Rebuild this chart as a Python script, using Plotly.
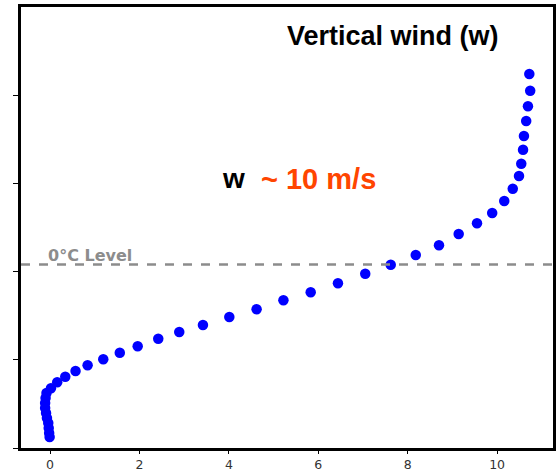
import plotly.graph_objects as go

# Vertical wind profile (x: w in m/s, y: height in arbitrary units)
w_values = [-0.01, -0.02, -0.03, -0.04, -0.07, -0.09, -0.11, -0.11, -0.10, -0.08,
            0.02, 0.16, 0.34, 0.57, 0.84, 1.19, 1.56, 1.96, 2.42, 2.89,
            3.42, 4.01, 4.62, 5.22, 5.83, 6.44, 7.05, 7.62, 8.18, 8.70,
            9.14, 9.55, 9.89, 10.16, 10.35, 10.49, 10.54, 10.58, 10.60, 10.65,
            10.69, 10.74, 10.72]
heights = [0.125, 0.17, 0.227, 0.283, 0.34, 0.397, 0.454, 0.51, 0.567, 0.624,
           0.677, 0.745, 0.808, 0.873, 0.938, 1.006, 1.080, 1.153, 1.239, 1.315,
           1.395, 1.485, 1.573, 1.675, 1.765, 1.867, 1.976, 2.078, 2.188, 2.298,
           2.426, 2.548, 2.664, 2.800, 2.940, 3.084, 3.223, 3.382, 3.537, 3.707,
           3.874, 4.051, 4.240]
freezing_level = 2.08
x_ticks = [0, 2, 4, 6, 8, 10]
y_ticks = [0, 1, 2, 3, 4]

fig = go.Figure()
fig.add_trace(go.Scatter(
    x=w_values, y=heights, mode="markers",
    marker=dict(color="#0000ff", size=10.5, line=dict(width=0)),
    showlegend=False,
))

fig.add_shape(type="line", xref="paper", yref="y", x0=0, x1=1,
              y0=freezing_level, y1=freezing_level,
              line=dict(color="#8c8c8c", width=2.5, dash="dash"))

fig.add_annotation(x=-0.08, y=freezing_level, xref="x", yref="y",
                   text="<b>0°C Level</b>", showarrow=False, xanchor="left", yanchor="bottom",
                   yshift=-2,
                   font=dict(family="DejaVu Sans", size=16, color="#8c8c8c"))

fig.add_annotation(x=0.70, y=0.935, xref="paper", yref="paper",
                   text="<b>Vertical wind (w)</b>", showarrow=False,
                   xanchor="center", yanchor="middle",
                   font=dict(family="Liberation Sans, Arial", size=27, color="#000000"))

fig.add_annotation(x=3.8, y=3.05, xref="x", yref="y",
                   text="<b>w</b>", showarrow=False, xanchor="left", yanchor="middle",
                   font=dict(family="Liberation Sans, Arial", size=28, color="#000000"))
fig.add_annotation(x=4.68, y=3.05, xref="x", yref="y",
                   text="<b>~ 10 m/s</b>", showarrow=False, xanchor="left", yanchor="middle",
                   font=dict(family="Liberation Sans, Arial", size=29, color="#ff4500"))

fig.update_xaxes(range=[-0.65, 11.25], tickvals=x_ticks, ticks="outside", ticklen=3,
                 tickwidth=1.2, tickcolor="#000", showline=True, linecolor="#000",
                 linewidth=2.5, mirror=True, showgrid=False, zeroline=False,
                 automargin=False,
                 tickfont=dict(family="DejaVu Sans", size=12.5, color="#333"))
fig.update_yaxes(range=[0, 5], tickvals=y_ticks, ticktext=["", "", "", "", ""],
                 ticks="outside", ticklen=5, tickwidth=1.2, tickcolor="#000",
                 showline=True, linecolor="#000", linewidth=2.5, mirror=True,
                 showgrid=False, zeroline=False, automargin=False)

fig.update_layout(width=558, height=472, margin=dict(l=21, r=5, t=7, b=24),
                  plot_bgcolor="white", paper_bgcolor="white")

fig.write_html("out.html")
